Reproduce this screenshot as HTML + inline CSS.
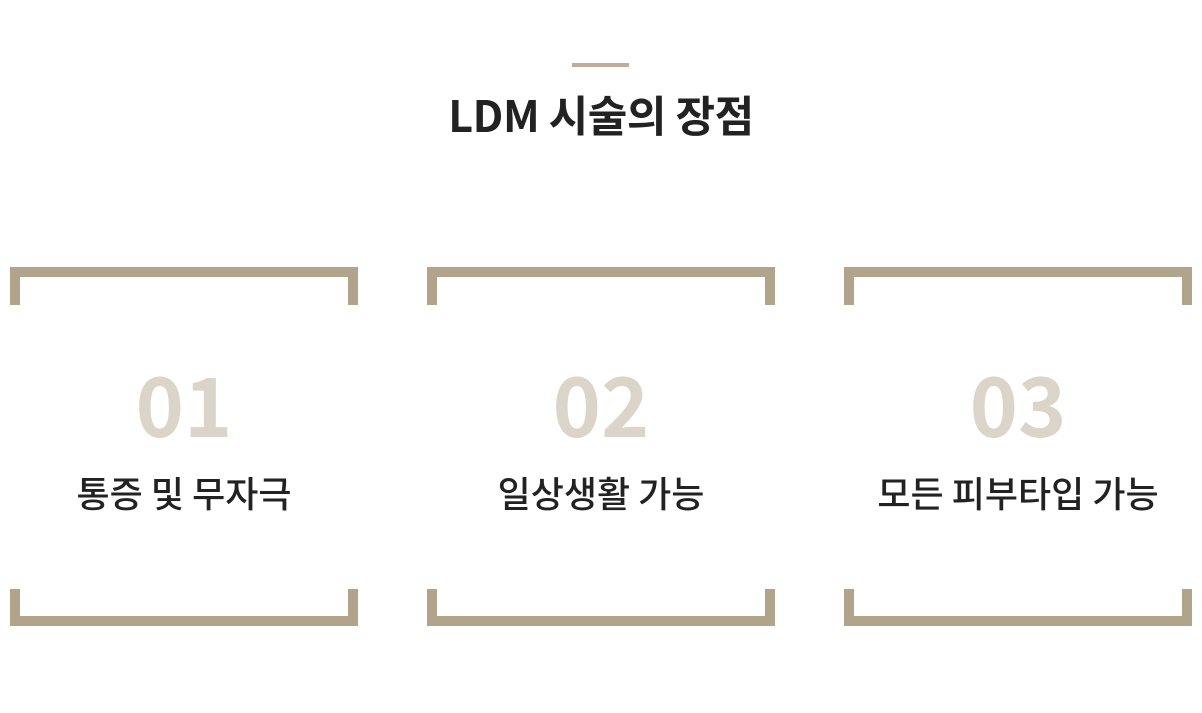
<!DOCTYPE html>
<html><head><meta charset="utf-8"><style>
body{margin:0;width:1202px;height:713px;background:#fff;position:relative;overflow:hidden;font-family:"Noto Sans CJK KR",sans-serif}
.ln{position:absolute;left:572px;top:63px;width:57px;height:4px;background:#bfae96}
.t{position:absolute;left:0;width:1202px;top:86px;text-align:center;font-size:43px;font-weight:bold;color:#222;letter-spacing:-0.4px;line-height:56px;white-space:nowrap}
.c{position:absolute;top:267px;width:348px;height:359px}
.c .b{position:absolute;background:#b2a48a}
.n{position:absolute;left:0;width:348px;top:354px;text-align:center;font-size:82px;font-weight:bold;color:#dbd4c9;line-height:96px}
.l{position:absolute;left:0;width:348px;top:467px;text-align:center;font-size:36px;font-weight:500;color:#222;letter-spacing:0;line-height:50px;white-space:nowrap}
</style></head><body>
<div class="ln"></div>
<div class="t">LDM 시술의 장점</div>
<div class="c" style="left:10px">
<div class="b" style="left:0;top:0;width:348px;height:10px"></div>
<div class="b" style="left:0;top:0;width:10px;height:38px"></div>
<div class="b" style="right:0;top:0;width:10px;height:38px"></div>
<div class="b" style="left:0;top:349px;width:348px;height:10px"></div>
<div class="b" style="left:0;top:322px;width:10px;height:37px"></div>
<div class="b" style="right:0;top:322px;width:10px;height:37px"></div>
</div>
<div class="c" style="left:427px">
<div class="b" style="left:0;top:0;width:348px;height:10px"></div>
<div class="b" style="left:0;top:0;width:10px;height:38px"></div>
<div class="b" style="right:0;top:0;width:10px;height:38px"></div>
<div class="b" style="left:0;top:349px;width:348px;height:10px"></div>
<div class="b" style="left:0;top:322px;width:10px;height:37px"></div>
<div class="b" style="right:0;top:322px;width:10px;height:37px"></div>
</div>
<div class="c" style="left:844px">
<div class="b" style="left:0;top:0;width:348px;height:10px"></div>
<div class="b" style="left:0;top:0;width:10px;height:38px"></div>
<div class="b" style="right:0;top:0;width:10px;height:38px"></div>
<div class="b" style="left:0;top:349px;width:348px;height:10px"></div>
<div class="b" style="left:0;top:322px;width:10px;height:37px"></div>
<div class="b" style="right:0;top:322px;width:10px;height:37px"></div>
</div>
<div class="n" style="left:10px">01</div>
<div class="n" style="left:427px">02</div>
<div class="n" style="left:844px">03</div>
<div class="l" style="left:10px">통증 및 무자극</div>
<div class="l" style="left:427px">일상생활 가능</div>
<div class="l" style="left:844px">모든 피부타입 가능</div>
</body></html>
